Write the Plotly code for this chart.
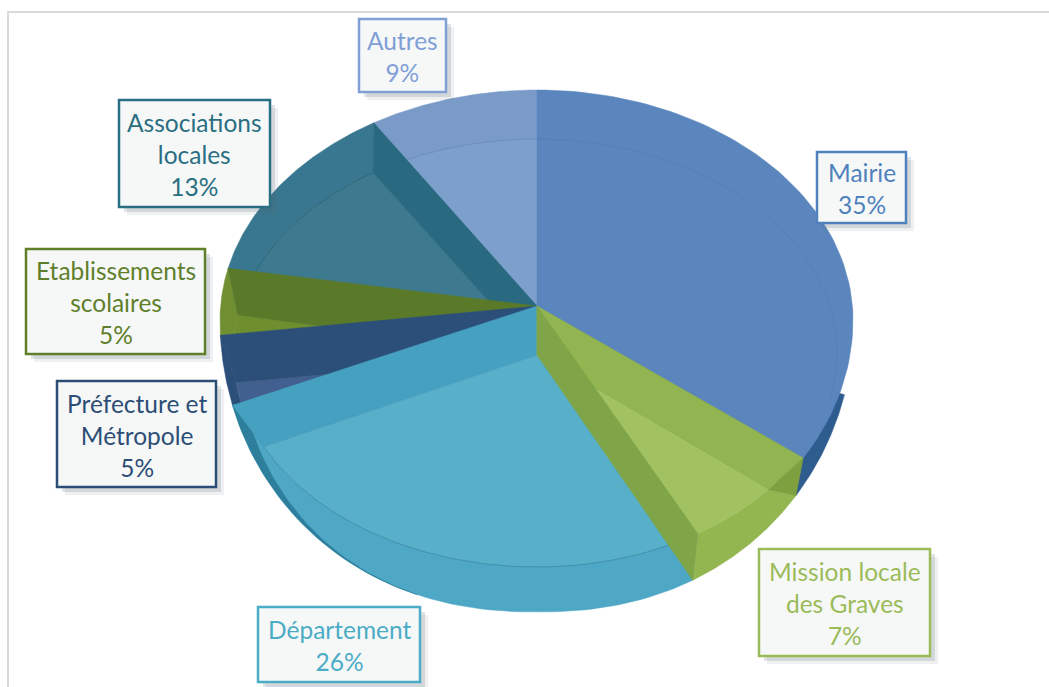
import numpy as np
import plotly.graph_objects as go

# ---- data
categories = ["Mairie", "Mission locale<br>des Graves", "Département", "Préfecture et<br>Métropole",
              "Etablissements<br>scolaires", "Associations<br>locales", "Autres"]
values = [35, 7, 26, 5, 5, 13, 9]
label_colors = ["#4F81BD", "#9BBB59", "#4BACC6", "#2C4D75", "#5F7F2B", "#2A6E82", "#7F9FD6"]

floor_colors = ["#5B86BD", "#A2C262", "#58AFC9", "#41608F", "#6F8E2E", "#3E7A8F", "#7D9FCC"]
rim_colors = ["#2F5C8F", "#94B651", "#4DA7C5", "#2C4F7A", "#6F8F30", "#38778F", "#7A9BC8"]
wall_colors = ["#5B86BD", "#7FA548", "#46A0C0", "#2C4F7A", "#5A7A2A", "#2A6A80", "#7D9FCC"]
arc_colors = ["#5480B6", None, "#3F8FAE", None, None, "#2F6578", "#6B8DBB"]

# label box extents (left, top, right, bottom), in picture pixels
boxes = [(817, 152, 906, 223), (759, 549, 930, 656), (258, 607, 420, 682), (57, 381, 216, 487),
         (26, 249, 205, 354), (119, 100, 270, 207), (359, 19, 446, 92)]

# projection of the tilted pie: slice angle -> angle on each drawn ellipse
S_T = [0, 126, 151.2, 244.8, 262.8, 280.8, 327.6, 360]
S_P = [0, 127, 153, 253, 267, 283, 329, 360]
F_T = [0, 126, 151.2, 244.8, 360]
F_P = [0, 129.7, 147.6, 244, 360]
T_T = [0, 126, 360]
T_P = [0, 122.6, 360]
APEX = (537, 306)
CENTER = (537, 355)


def S(t):
    p = np.radians(np.interp(t, S_T, S_P))
    s, c = np.sin(p), np.cos(p)
    x = np.where(c > 0, 317 * np.abs(s), 317 * np.abs(s) ** 0.9) * np.sign(s)
    y = np.where(c > 0, 320 - 230 * c, 320 - 292 * c)
    return 537 + x, y


def F(t):
    p = np.radians(np.interp(t, F_T, F_P))
    s, c = np.sin(p), np.cos(p)
    return 537 + np.where(s >= 0, 300, 304) * s, 353 - 214 * c


def T(t):
    p = np.radians(np.interp(t, T_T, T_P))
    s, c = np.sin(p), np.cos(p)
    return 537 + 316 * s, np.where(c > 0, 320 - 230 * c, 320 - 256 * c)


def arc(fn, a, b, n=80):
    return fn(np.linspace(a, b, n))


fig = go.Figure()


def poly(parts, color):
    xs, ys = [], []
    for px, py in parts:
        xs += list(np.atleast_1d(px))
        ys += list(np.atleast_1d(py))
    fig.add_trace(go.Scatter(x=xs + xs[:1], y=ys + ys[:1], mode="lines", fill="toself", fillcolor=color,
                             line=dict(color=color, width=0.5), hoverinfo="skip", showlegend=False))


def line(parts, color, width=1):
    fig.add_trace(go.Scatter(x=parts[0], y=parts[1], mode="lines", line=dict(color=color, width=width),
                             hoverinfo="skip", showlegend=False))


cum = np.cumsum([0] + values) * 3.6
start = dict(zip(range(7), cum[:-1]))
end = dict(zip(range(7), cum[1:]))


def rim_floor(i):
    a, b = start[i], end[i]
    poly([arc(S, a, b), arc(F, b, a)], rim_colors[i])
    poly([CENTER, arc(F, a, b)], floor_colors[i])
    if arc_colors[i]:
        line(arc(F, a, b), arc_colors[i])


def wall(i, t):
    poly([APEX, S(t), F(t), CENTER], wall_colors[i])


# back to front
for i in [6, 5, 4, 3]:
    rim_floor(i)
    wall(i, end[i])

# Département, with the darker shading along its left edge
rim_floor(2)
th = np.linspace(195, end[2], 40)
sx, sy = S(th)
k = (th - 195) / (end[2] - 195) * 0.04
poly([(sx, sy), ((537 + (sx - 537) * (1 - k))[::-1], sy[::-1])], "#2E7F9B")
wall(2, end[2])

# Mairie: dark crescent, then its top surface
poly([APEX, arc(S, 104, end[0])], rim_colors[0])
poly([APEX, arc(T, start[0], end[0])], floor_colors[0])
line(arc(F, 0, 100), arc_colors[0])

# Mission locale: rim, dark corner, back wall, floor, front wall
i = 1
poly([arc(S, start[i], end[i]), arc(F, end[i], start[i])], rim_colors[i])
tx, ty = T(start[i])
sx, sy = S(start[i])
fx, fy = F(start[i])
poly([(tx, ty), (sx, sy), (fx, fy)], "#7FA03F")
poly([APEX, (tx, ty), (fx, fy), CENTER], "#93B551")
poly([CENTER, arc(F, start[i], end[i])], floor_colors[i])
poly([APEX, F(end[i]), S(end[i]), CENTER], wall_colors[i])

# Labels
shapes = [dict(type="rect", x0=8, y0=12, x1=1060, y1=700, line=dict(color="#D9D9D9", width=2), layer="below")]
annotations = []
for name, val, col, (x0, y0, x1, y1) in zip(categories, values, label_colors, boxes):
    for off, op in [(8, 0.10), (5, 0.18)]:
        shapes.append(dict(type="rect", x0=x0 + off, y0=y0 + off, x1=x1 + off, y1=y1 + off,
                           fillcolor="#5A6B72", opacity=op, line=dict(width=0), layer="above"))
    shapes.append(dict(type="rect", x0=x0, y0=y0, x1=x1, y1=y1, fillcolor="#F6F8F8",
                       line=dict(color=col, width=2.5), layer="above"))
    annotations.append(dict(x=(x0 + x1) / 2, y=(y0 + y1) / 2 + 1, text=f"{name}<br>{val}%", showarrow=False,
                            xref="x", yref="y", align="center",
                            font=dict(family="Lato, Carlito, sans-serif", size=24.5, color=col)))

fig.update_layout(width=1049, height=687, margin=dict(l=0, r=0, t=0, b=0), paper_bgcolor="white",
                  plot_bgcolor="white", showlegend=False, shapes=shapes, annotations=annotations,
                  xaxis=dict(range=[0, 1049], visible=False, fixedrange=True),
                  yaxis=dict(range=[687, 0], visible=False, fixedrange=True))

fig.write_html("out.html", config=dict(displayModeBar=False),
               post_script="document.body.style.margin='0';document.body.style.overflow='hidden';")
